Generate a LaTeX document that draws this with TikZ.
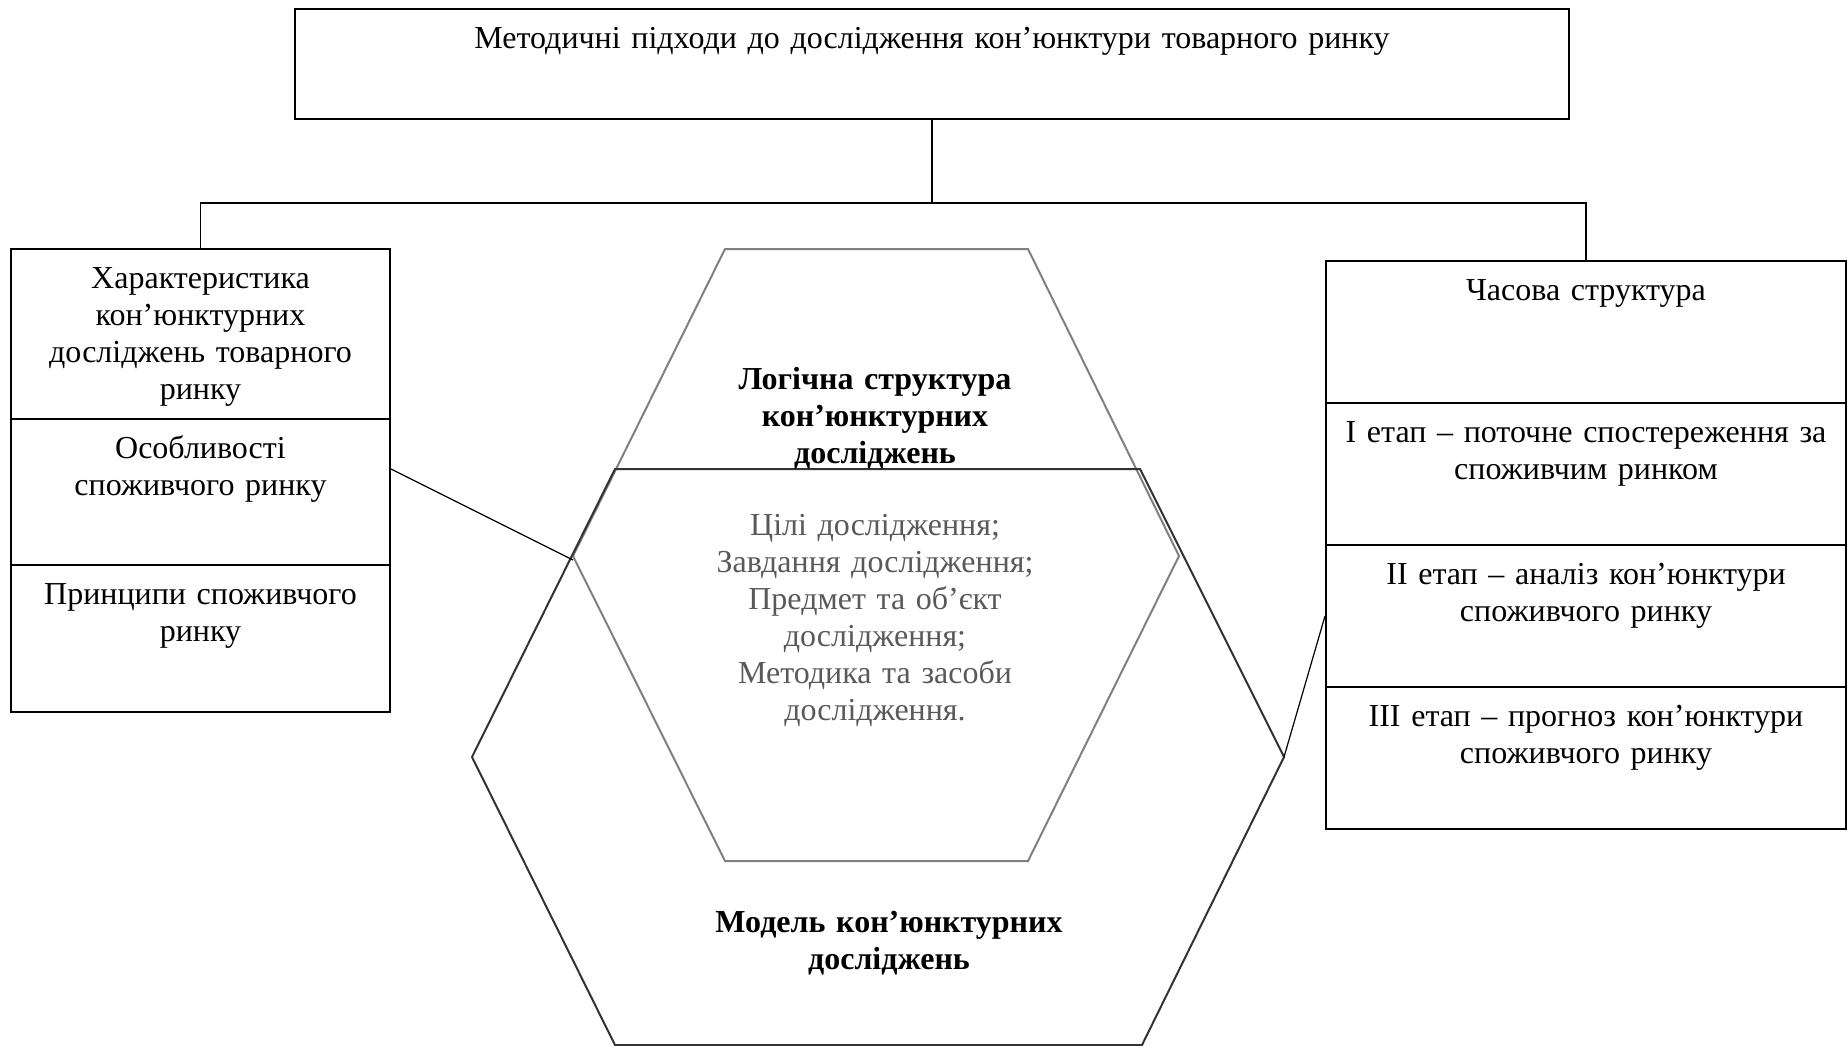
\documentclass[tikz,border=0pt]{standalone}
\usepackage{fontspec}
\setmainfont{Liberation Serif}
\definecolor{hexdark}{HTML}{333333}
\definecolor{hexgray}{HTML}{808080}
\definecolor{txtgray}{HTML}{595959}
\tikzset{topbox/.style={draw, line width=1pt, minimum width=637pt, minimum height=55pt, inner sep=0pt}}
\tikzset{leftbox/.style={draw, line width=1pt, minimum width=189.5pt, inner sep=0pt}}
\tikzset{rightbox/.style={draw, line width=1pt, minimum width=260pt, minimum height=71pt, inner sep=0pt}}
\tikzset{boxtext/.style={anchor=base, inner sep=0pt, align=center, text width=250pt, font=\fontsize{16}{18.5}\selectfont}}
\tikzset{hextext/.style={boxtext, font=\fontsize{16}{18.5}\selectfont\bfseries}}
\tikzset{link/.style={draw, line width=0.6pt}}
\begin{document}
\begin{tikzpicture}[x=0.5pt, y=-0.5pt]
\useasboundingbox (0,0) rectangle (1847,1045);

\node[topbox] (top) at (932,64) {};
\node[boxtext, text width=620pt] (toptxt) at ([yshift=-20pt]top.north) {Методичні підходи до дослідження кон’юнктури товарного ринку};

\node[leftbox, minimum height=85pt] (char) at (200.5,334) {};
\node[leftbox, minimum height=73pt] (feat) at (200.5,492) {};
\node[leftbox, minimum height=73.5pt] (prin) at (200.5,638.5) {};
\node[boxtext, text width=180pt] (chartxt) at ([yshift=-20pt]char.north) {Характеристика\\кон’юнктурних\\досліджень товарного\\ринку};
\node[boxtext, text width=180pt] (feattxt) at ([yshift=-20pt]feat.north) {Особливості\\споживчого ринку};
\node[boxtext, text width=180pt] (printxt) at ([yshift=-20pt]prin.north) {Принципи споживчого\\ринку};

\node[rightbox] (time) at (1586,332) {};
\node[rightbox] (stage1) at (1586,474) {};
\node[rightbox] (stage2) at (1586,616) {};
\node[rightbox] (stage3) at (1586,758) {};
\node[boxtext] (timetxt) at ([yshift=-20pt]time.north) {Часова структура};
\node[boxtext] (stage1txt) at ([yshift=-20pt]stage1.north) {І етап – поточне спостереження за\\споживчим ринком};
\node[boxtext] (stage2txt) at ([yshift=-20pt]stage2.north) {ІІ етап – аналіз кон’юнктури\\споживчого ринку};
\node[boxtext] (stage3txt) at ([yshift=-20pt]stage3.north) {ІІІ етап – прогноз кон’юнктури\\споживчого ринку};

\draw[hexgray, line width=1pt] (725,249) -- (1028,249) -- (1179,556) -- (1028,861) -- (725,861) -- (573,556) -- cycle;
\draw[hexdark, line width=1pt] (472,757) -- (615,469) -- (1140,469) -- (1284,757) -- (1142,1045) -- (615,1045) -- cycle;
\coordinate (hinL) at (573,560);
\coordinate (houtR) at (1284,757);

\node[hextext] (logic) at (875,389) {Логічна структура\\кон’юнктурних\\досліджень};
\node[boxtext, text=txtgray] (items) at (875,535) {Цілі дослідження;\\Завдання дослідження;\\Предмет та об’єкт\\дослідження;\\Методика та засоби\\дослідження.};
\node[hextext] (model) at (889,932) {Модель кон’юнктурних\\досліджень};

\coordinate (bus) at (932,203);
\draw[link] (top.south) -- (bus);
\draw[link] (bus) -| (char.north);
\draw[link] (bus) -| (time.north);
\draw[link] ([yshift=11.5pt]feat.east) -- (hinL);
\draw[link] (stage2.west) -- (houtR);

\end{tikzpicture}
\end{document}
